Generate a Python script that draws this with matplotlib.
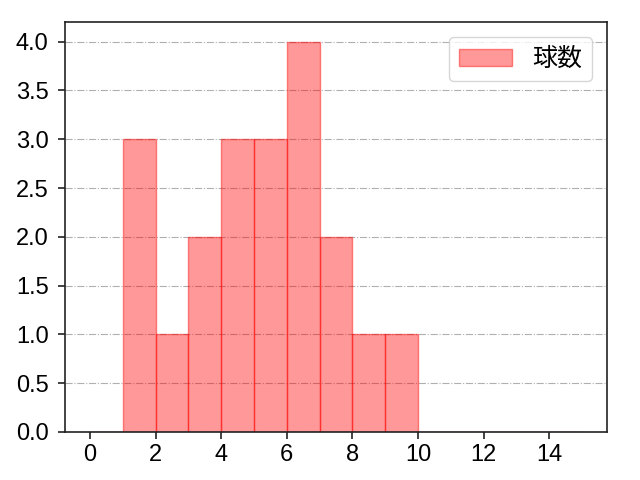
import matplotlib
matplotlib.use("Agg")
import matplotlib.pyplot as plt

plt.rcParams["font.family"] = ["Liberation Sans", "Noto Sans CJK JP"]

# histogram of 球数 (bin left edges and counts)
bin_lefts = [0, 1, 2, 3, 4, 5, 6, 7, 8, 9, 10, 11, 12, 13, 14]
counts = [0, 3, 1, 2, 3, 3, 4, 2, 1, 1, 0, 0, 0, 0, 0]
label = "球数"

fig = plt.figure(figsize=(6.4, 4.8), dpi=100)
ax = fig.add_axes([0.102, 0.1, 0.846, 0.854])

ax.bar(bin_lefts, counts, width=1, align="edge",
       facecolor=(1, 0, 0, 0.4), edgecolor=(1, 0, 0, 0.45),
       linewidth=1, label=label)

ax.set_xlim(-0.75, 15.75)
ax.set_ylim(0, 4.2)
ax.set_xticks(range(0, 16, 2))
ax.set_yticks([i * 0.5 for i in range(9)])
ax.set_yticklabels(["{:.1f}".format(i * 0.5) for i in range(9)])
ax.tick_params(labelsize=17, width=1.2, length=5, color="#222222")
ax.tick_params(axis="y", pad=7)
for sp in ax.spines.values():
    sp.set_color("#222222")
    sp.set_linewidth(1.2)
ax.grid(axis="y", linestyle="-.", color="#b0b0b0", linewidth=0.8)
ax.set_axisbelow(True)
ax.legend(loc="upper right", fontsize=18, handlelength=2.1, borderaxespad=0.6)

fig.savefig("out.png", dpi=100)
